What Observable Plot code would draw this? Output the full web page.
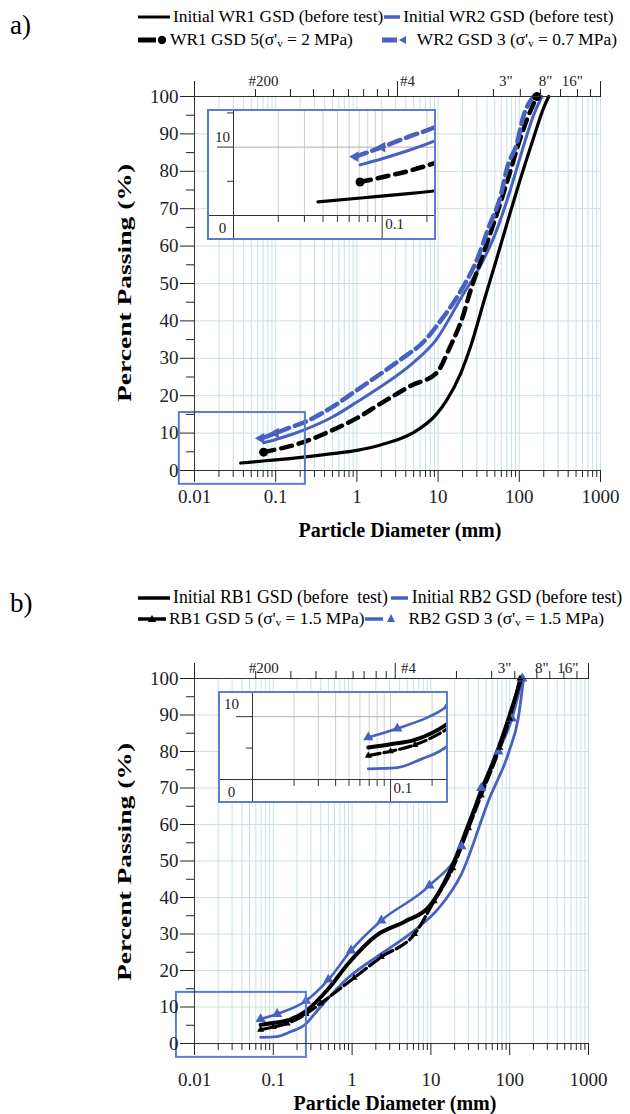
<!DOCTYPE html>
<html><head><meta charset="utf-8">
<script src="https://cdn.jsdelivr.net/npm/d3@7"></script>
<script src="https://cdn.jsdelivr.net/npm/@observablehq/plot@0.6"></script>
<style>
body{margin:0;background:#fff;}
#page{position:relative;width:630px;height:1114px;overflow:hidden;font-family:"Liberation Serif","Times New Roman",serif;color:#000;background:#fff;}
#page svg, #page svg text{font-family:"Liberation Serif","Times New Roman",serif !important;}
.tag{position:absolute;font-size:27px;line-height:1;}
.leg{position:absolute;font-size:17.4px;white-space:nowrap;display:flex;align-items:center;height:18px;line-height:1;}
.leg svg{margin-right:2px;flex:none;}
.xlab{position:absolute;font-weight:bold;font-size:20px;transform:translate(-50%,-50%);white-space:nowrap;}
.ylab{position:absolute;font-weight:bold;font-size:19px;transform:translate(-50%,-50%) rotate(-90deg) scaleX(1.45);white-space:nowrap;}
.plotwrap{position:absolute;left:0;}
.inset{position:absolute;background:#fff;}
.inset .bd{position:absolute;left:0;top:0;right:0;bottom:0;border:2px solid #5b7dd1;box-sizing:border-box;pointer-events:none;}
</style></head>
<body><div id="page"></div>
<script>
// ---------- colours ----------
const BLUE = "#4760c2";
const BOXBLUE = "#5b7dd1";

// ---------- axes / tick values ----------
const decades = [0.01, 0.1, 1, 10, 100, 1000];
const minorMults = [2, 3, 4, 5, 6, 7, 8, 9];
const yMajor = [0, 10, 20, 30, 40, 50, 60, 70, 80, 90, 100];
const yMinor = [5, 15, 25, 35, 45, 55, 65, 75, 85, 95];
const gridY = [10, 20, 30, 40, 50, 60, 70, 80, 90];
const insetMinor = [0.02, 0.03, 0.04, 0.05, 0.06, 0.07, 0.08, 0.09, 0.2];
const insetYTop = [10];
const insetYZero = [0];
const insetXLabels = [0.1];

// top (sieve) axis
const topTicksA = [0.0564, 0.152, 0.292, 0.515, 0.789, 1.21, 1.79, 2.45, 17.8, 48, 103, 182, 322, 521, 753];
const topTallA = [0.01, 3.16, 1000];
const topLabelsA = [{t: "#200", x: 0.071}, {t: "#4", x: 4.2}, {t: '3"', x: 68}, {t: '8"', x: 210}, {t: '16"', x: 450}];
const topTicksB = [0.0598, 0.167, 0.348, 0.625, 1.03, 1.42, 2.02, 2.71, 21.1, 59, 116, 221, 323, 487, 714];
const topTallB = [0.01, 3.53, 1000];
const topLabelsB = [{t: "#200", x: 0.0756}, {t: "#4", x: 5.2}, {t: '3"', x: 86}, {t: '8"', x: 256}, {t: '16"', x: 548}];

// zoom boxes (particle diameter mm, percent)
const boxA = {x1: 0.0065, x2: 0.232, y1: -3.7, y2: 15.5};
const boxB = {x1: 0.0059, x2: 0.263, y1: -3.8, y2: 14};

// ---------- data: [diameter (mm), percent passing] ----------
const WR1_initial = [[0.037,2.0],[0.075,2.6],[0.15,3.2],[0.3,3.9],[0.5,4.5],[1,5.4],[2,6.9],[4.75,9.9],[9.5,15],[12.5,18.5],[19,26],[25,33],[37.5,46],[50,55],[75,68],[100,77],[150,89],[200,97],[230,100]];
const WR2_initial = [[0.071,7.4],[0.1,8.3],[0.15,9.5],[0.22,10.8],[0.5,14.3],[1,18.3],[2,22.5],[4.75,28.5],[9.5,35],[19,46],[37.5,57],[50,63],[75,74],[100,83],[150,95],[190,100]];
const WR1_GSD5 = [[0.071,4.9],[0.1,5.6],[0.15,6.5],[0.22,7.6],[0.5,10.8],[1,14],[2,18],[4.75,22.8],[9.5,26],[14,33],[20,41],[25,48],[37.5,59],[50,67],[75,79],[100,88],[125,94],[165,100]];
const WR2_GSD3 = [[0.066,8.6],[0.1,10.0],[0.15,11.5],[0.22,12.8],[0.5,17],[1,21.5],[2,26],[4.2,31],[6,33.5],[10.7,40],[19,48],[31,57],[42,65],[59,73.5],[71,81],[95,88],[110,94],[150,100]];

const RB1_initial = [[0.069,5.1],[0.1,5.6],[0.15,6.3],[0.26,8.9],[0.5,15],[0.9,22],[2,29.5],[4.75,33.5],[9.5,37.5],[19,49],[30,60],[43.5,69],[75,82],[100,90],[140,100]];
const RB1_GSD5 = [[0.069,3.8],[0.1,4.5],[0.15,5.5],[0.26,8.1],[0.4,11],[1.06,18],[2.35,23.7],[6.2,30],[11,39],[19,48],[30,59],[43.5,68],[75,81],[100,89],[135,100]];
const RB2_initial = [[0.069,1.7],[0.112,1.9],[0.165,3.2],[0.26,5.4],[0.33,8],[0.89,18],[2.35,24.6],[6.2,31],[12.5,37],[24.5,46.5],[54,66.6],[98,80],[128,89],[150,100]];
const RB2_GSD3 = [[0.069,6.7],[0.112,8.1],[0.26,11.7],[0.5,17.5],[0.97,25.5],[2.35,33.7],[9.6,43.3],[24.5,54],[43.5,70],[72,80],[107,89],[145,100]];

const seriesA = [
  {data: WR1_initial, color: "#000", width: 3.2},
  {data: WR2_initial, color: BLUE, width: 3},
  {data: WR1_GSD5, color: "#000", width: 4.5, dash: "11,7", marker: "circle", r: 4.5, markerIdx: [0, WR1_GSD5.length - 1]},
  {data: WR2_GSD3, color: BLUE, width: 4.5, dash: "12,6", marker: "triangle", r: 4, rotate: -90, markerIdx: [0, 1]}
];
const seriesB = [
  {data: RB2_initial, color: BLUE, width: 2.8},
  {data: RB2_GSD3, color: BLUE, width: 2.6, marker: "triangle", r: 3.8},
  {data: RB1_initial, color: "#000", width: 4},
  {data: RB1_GSD5, color: "#000", width: 3.2, dash: "12,4", marker: "triangle", r: 2.6}
];

const minorX = decades.slice(0, -1).flatMap(d => minorMults.map(m => +(d * m).toPrecision(3)));
const gridX = minorX.concat(decades.slice(1));

function seriesMarks(series, clip) {
  const out = [];
  for (const s of series) {
    out.push(Plot.line(s.data, {x: d => d[0], y: d => d[1], stroke: s.color, strokeWidth: s.width,
      strokeDasharray: s.dash, curve: "monotone-x", clip}));
  }
  for (const s of series) {
    if (!s.marker) continue;
    const pts = s.markerIdx ? s.data.filter((d, i) => s.markerIdx.includes(i)) : s.data;
    out.push(Plot.dot(pts, {x: d => d[0], y: d => d[1], symbol: s.marker, r: s.r, fill: s.color,
      stroke: "none", rotate: s.rotate || 0, clip}));
  }
  return out;
}

const SERIF = '"Liberation Serif", "Times New Roman", serif';

function mainChart(o) {
  const none = () => "";
  return Plot.plot({
    width: 630, height: o.height,
    marginLeft: 194, marginRight: o.mr, marginTop: o.mt, marginBottom: o.mb,
    style: {fontFamily: SERIF, fontSize: "19px", color: "#222", background: "transparent", overflow: "visible"},
    x: {type: "log", domain: [0.01, 1000]},
    y: {domain: [0, 100]},
    marks: [
      Plot.ruleX(gridX, {stroke: "#c6e2e7", strokeWidth: 1}),
      Plot.ruleY(gridY, {stroke: "#cadfe4", strokeWidth: 1}),
      ...seriesMarks(o.series, false),
      Plot.rect([o.box], {x1: "x1", x2: "x2", y1: "y1", y2: "y2", fill: "none", stroke: BOXBLUE, strokeWidth: 2}),
      Plot.ruleX([0.01], {stroke: "#333"}),
      Plot.ruleY([0], {stroke: "#333"}),
      Plot.ruleY([100], {stroke: "#333"}),
      Plot.axisY({ticks: yMajor, tickSize: 14, tickPadding: 2, tickFormat: d => String(d), label: null, fontFamily: SERIF}),
      Plot.axisY({ticks: yMinor, tickSize: 8, tickFormat: none, label: null}),
      Plot.axisX({ticks: decades, tickSize: 12, tickPadding: o.xPad, tickFormat: d => String(d), label: null, fontFamily: SERIF}),
      Plot.axisX({ticks: minorX, tickSize: 7, tickFormat: none, label: null}),
      Plot.axisX({anchor: "top", ticks: o.topTicks, tickSize: 8, tickFormat: none, label: null}),
      Plot.axisX({anchor: "top", ticks: o.topTall, tickSize: 16, tickFormat: none, label: null}),
      Plot.text(o.topLabels, {x: "x", text: "t", frameAnchor: "top", dy: o.topDy, fontSize: 15, fill: "#222", fontFamily: SERIF})
    ]
  });
}

function insetChart(o) {
  const none = () => "";
  return Plot.plot({
    width: o.w, height: o.h, marginLeft: o.ml, marginBottom: o.mb, marginTop: 0, marginRight: 0,
    style: {fontFamily: SERIF, fontSize: "15px", color: "#333", background: "#fff", overflow: "hidden"},
    x: {type: "log", domain: [0.01, o.xmax]},
    y: {domain: [0, o.ymax]},
    marks: [
      Plot.ruleX(insetMinor.concat([0.1]), {stroke: "#cfcfcf"}),
      Plot.ruleY([10], {stroke: "#b0b0b0"}),
      ...seriesMarks(o.series, true),
      Plot.ruleX([0.01], {stroke: "#333", insetBottom: -o.mb}),
      Plot.ruleY([0], {stroke: "#333", insetLeft: -o.ml}),
      Plot.axisY({ticks: [10], tickSize: 16, tickFormat: none, label: null}),
      Plot.axisY({ticks: [5, 15], tickSize: 6, tickFormat: none, label: null}),
      Plot.axisX({ticks: insetMinor, tickSize: 7, tickFormat: none, label: null}),
      Plot.axisX({ticks: [0.1], tickSize: o.mb, tickFormat: none, label: null}),
      Plot.text(insetYTop, {y: d => d, text: d => String(d), frameAnchor: "left", textAnchor: "middle",
        dx: o.ldx, dy: o.l10dy, fontSize: 15, fill: "#222", fontFamily: SERIF}),
      Plot.text(insetYZero, {y: d => d, text: d => String(d), frameAnchor: "left", textAnchor: "middle",
        dx: o.ldx, dy: 13, fontSize: 15, fill: "#222", fontFamily: SERIF}),
      Plot.text(insetXLabels, {x: d => d, text: d => String(d), frameAnchor: "bottom", textAnchor: "start",
        dx: 3, dy: 13, fontSize: 15, fill: "#222", fontFamily: SERIF})
    ]
  });
}

// ---------- page ----------
const page = document.getElementById("page");
function add(html) { page.insertAdjacentHTML("beforeend", html); }

function sw(w, color, lw, x1, x2, marker) {
  let m = "";
  if (marker === "circle") m = `<circle cx="${x2 + 6}" cy="9" r="4.2" fill="${color}"/>`;
  if (marker === "left") m = `<polygon points="${x2 + 2},9 ${x2 + 9},5 ${x2 + 9},13" fill="${color}"/>`;
  if (marker === "up") m = `<polygon points="${x2 + 8},4 ${x2 + 12},12 ${x2 + 4},12" fill="${color}"/>`;
  if (marker === "upmid") m = `<polygon points="${(x1 + x2) / 2},5 ${(x1 + x2) / 2 + 4},12 ${(x1 + x2) / 2 - 4},12" fill="${color}"/>`;
  return `<svg width="${w}" height="18"><line x1="${x1}" y1="9" x2="${x2}" y2="9" stroke="${color}" stroke-width="${lw}"/>${m}</svg>`;
}
const sv = "σ'<sub style='font-size:11px;vertical-align:-2px'>v</sub>";

// panel a
add(`<div class="tag" style="left:10px;top:12px">a)</div>`);
add(`<div class="leg" style="left:138px;top:8px">${sw(33, "#000", 3, 0, 32)}<span>Initial WR1 GSD (before test)</span>${sw(18, BLUE, 3.5, 1, 17)}<span>Initial WR2 GSD (before test)</span></div>`);
add(`<div class="leg" style="left:138px;top:31px">${sw(30, "#000", 5, 0, 18, "circle")}<span>WR1 GSD 5(${sv} = 2 MPa)</span></div>`);
add(`<div class="leg" style="right:13px;top:31px">${sw(36, BLUE, 5, 3, 18, "left")}<span>WR2 GSD 3 (${sv} = 0.7 MPa)</span></div>`);

const wrapA = document.createElement("div");
wrapA.className = "plotwrap"; wrapA.style.top = "50px";
wrapA.appendChild(mainChart({height: 495, mt: 46, mb: 75, mr: 30, xPad: 7, series: seriesA, box: boxA,
  topTicks: topTicksA, topTall: topTallA, topLabels: topLabelsA, topDy: -21}));
page.appendChild(wrapA);

const insA = document.createElement("div");
insA.className = "inset";
Object.assign(insA.style, {left: "207px", top: "109px", width: "229px", height: "131px"});
insA.appendChild(insetChart({w: 229, h: 131, ml: 26, mb: 25, xmax: 0.232, ymax: 15.5, series: seriesA, ldx: -11, l10dy: -10}));
insA.insertAdjacentHTML("beforeend", `<div class="bd"></div>`);
page.appendChild(insA);

add(`<div class="ylab" style="left:125px;top:283px">Percent Passing (%)</div>`);
add(`<div class="xlab" style="left:400px;top:530px">Particle Diameter (mm)</div>`);

// panel b
add(`<div class="tag" style="left:10px;top:590px">b)</div>`);
add(`<div class="leg" style="left:138px;top:589px;font-size:17.8px">${sw(33, "#000", 3.5, 0, 32)}<span>Initial RB1 GSD (before&nbsp; test)</span>${sw(22, BLUE, 3.5, 3, 20)}<span>Initial RB2 GSD (before test)</span></div>`);
add(`<div class="leg" style="left:138px;top:610px">${sw(29, "#000", 3.5, 0, 28, "upmid")}<span>RB1 GSD 5 (${sv} = 1.5 MPa)</span>${sw(36, BLUE, 3.5, 1, 19, "up")}<span style="margin-left:6px">RB2 GSD 3 (${sv} = 1.5 MPa)</span></div>`);

const wrapB = document.createElement("div");
wrapB.className = "plotwrap"; wrapB.style.top = "630px";
wrapB.appendChild(mainChart({height: 484, mt: 48, mb: 71, mr: 42, xPad: 17, series: seriesB, box: boxB,
  topTicks: topTicksB, topTall: topTallB, topLabels: topLabelsB, topDy: -16}));
page.appendChild(wrapB);

const insB = document.createElement("div");
insB.className = "inset";
Object.assign(insB.style, {left: "218px", top: "691px", width: "230px", height: "112px"});
insB.appendChild(insetChart({w: 230, h: 112, ml: 34, mb: 24, xmax: 0.263, ymax: 14, series: seriesB, ldx: -21, l10dy: -12}));
insB.insertAdjacentHTML("beforeend", `<div class="bd"></div>`);
page.appendChild(insB);

add(`<div class="ylab" style="left:125px;top:862px">Percent Passing (%)</div>`);
add(`<div class="xlab" style="left:395px;top:1103px">Particle Diameter (mm)</div>`);
</script></body></html>
